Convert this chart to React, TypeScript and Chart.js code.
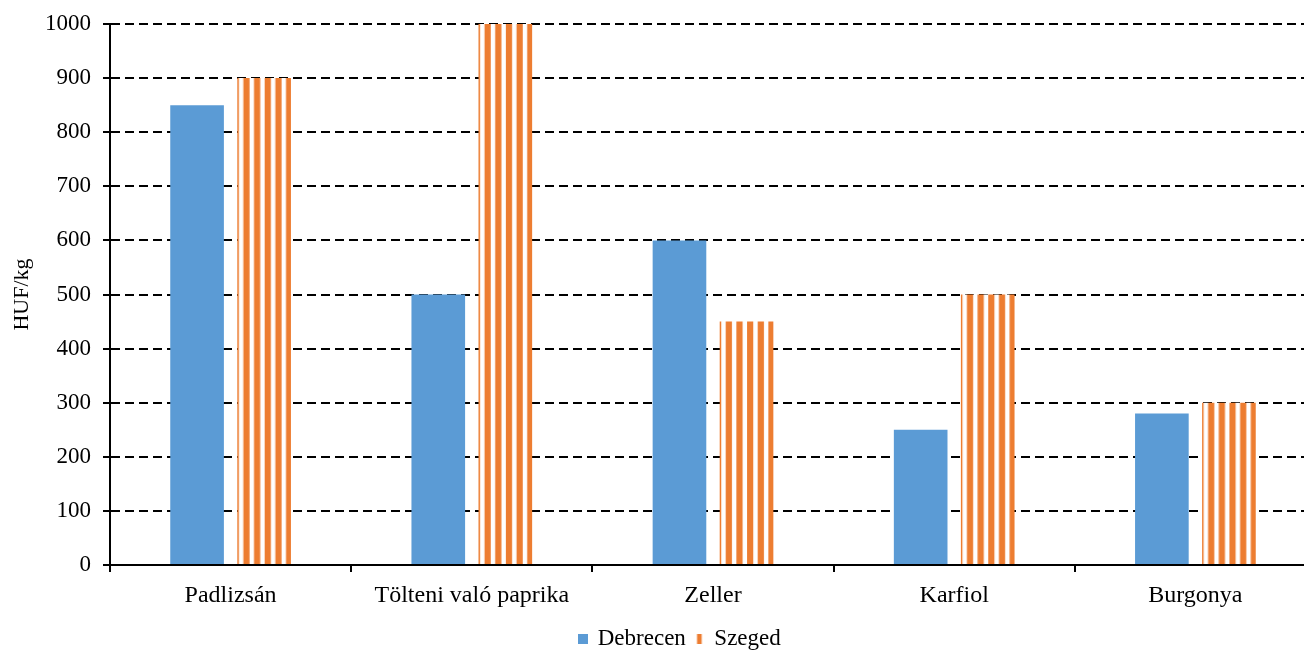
import React, { useEffect, useRef } from "react";
import { Chart, registerables } from "chart.js";

Chart.register(...registerables);

const categories = ["Padlizsán", "Tölteni való paprika", "Zeller", "Karfiol", "Burgonya"];
const debrecen = [850, 500, 600, 250, 280];
const szeged = [900, 1000, 450, 500, 300];
const yTicks = [0, 100, 200, 300, 400, 500, 600, 700, 800, 900, 1000];

const BLUE = "#5B9BD5";
const ORANGE = "#ED7D31";
const FONT = "'Liberation Serif', 'Times New Roman', serif";

const CANVAS_W = 1360;
const CANVAS_H = 670;

function makeStripeTile(): HTMLCanvasElement {
  const c = document.createElement("canvas");
  c.width = 32;
  c.height = 8;
  const g = c.getContext("2d")!;
  g.fillStyle = "#ffffff";
  g.fillRect(0, 0, 32, 8);
  g.fillStyle = ORANGE;
  const period = 32 / 3;
  for (let i = 0; i < 3; i++) {
    g.fillRect(i * period, 0, 6.2, 8);
  }
  return c;
}

function legendIcon(kind: "blue" | "orange"): HTMLCanvasElement {
  const c = document.createElement("canvas");
  c.width = 10;
  c.height = 10;
  const g = c.getContext("2d")!;
  if (kind === "blue") {
    g.fillStyle = BLUE;
    g.fillRect(0, 0, 10, 10);
  } else {
    g.fillStyle = ORANGE;
    g.fillRect(3, 0, 4, 10);
    g.fillStyle = "rgba(237,125,49,0.35)";
    g.fillRect(2, 0, 1, 10);
    g.fillRect(7, 0, 1, 10);
  }
  return c;
}

const legendShift = {
  id: "legendShift",
  afterLayout(chart: any) {
    const lg = chart.legend;
    if (lg) {
      lg.left += 22;
      lg.right += 22;
    }
  },
};

export default function App() {
  const ref = useRef<HTMLCanvasElement>(null);

  useEffect(() => {
    const canvas = ref.current!;
    const tile = makeStripeTile();
    const cctx = canvas.getContext("2d")!;
    const stripeFill = (ctx: any) => {
      const chart = ctx.chart;
      const pat = cctx.createPattern(tile, "repeat")!;
      const xs = chart.scales && chart.scales.x;
      if (ctx.dataIndex !== undefined && xs && xs.getPixelForValue) {
        const center = xs.getPixelForValue(ctx.dataIndex);
        const w = xs.width / categories.length;
        const slot = (w * 0.556) / 2;
        const left = center + slot * 0.1;
        try {
          pat.setTransform(new DOMMatrix().translate(left - 4.67, 0));
        } catch (e) {}
      }
      return pat;
    };

    const chart = new Chart(canvas, {
      type: "bar",
      data: {
        labels: categories,
        datasets: [
          {
            label: "Debrecen",
            data: debrecen,
            backgroundColor: BLUE,
            borderWidth: 0,
            categoryPercentage: 0.556,
            barPercentage: 0.8,
            pointStyle: legendIcon("blue") as any,
          },
          {
            label: "Szeged",
            data: szeged,
            backgroundColor: stripeFill as any,
            borderWidth: 0,
            categoryPercentage: 0.556,
            barPercentage: 0.8,
            pointStyle: legendIcon("orange") as any,
          },
        ],
      },
      plugins: [legendShift],
      options: {
        responsive: false,
        animation: false,
        layout: { padding: { top: 24, left: 0, right: 44, bottom: 9.5 } },
        plugins: {
          tooltip: { enabled: false },
          legend: {
            position: "bottom",
            labels: {
              usePointStyle: true,
              pointStyleWidth: 7,
              color: "#000",
              font: { family: FONT, size: 23 },
              padding: 10,
              boxWidth: 10,
              boxHeight: 10,
            },
          },
        },
        scales: {
          x: {
            offset: true,
            border: { display: true, color: "#000", width: 2 },
            grid: {
              display: true,
              drawOnChartArea: false,
              drawTicks: true,
              tickLength: 7,
              color: "#000",
              lineWidth: 2,
              offset: true,
            },
            ticks: {
              color: "#000",
              font: { family: FONT, size: 24 },
              padding: 9,
              maxRotation: 0,
              autoSkip: false,
            },
            afterFit: (s: any) => {
              s.height = 52.5;
            },
          },
          y: {
            min: 0,
            max: 1000,
            border: { display: true, color: "#000", width: 2, dash: [9, 5] },
            grid: {
              color: (c: any) => (c.tick && c.tick.value === 0 ? "rgba(0,0,0,0)" : "#000"),
              lineWidth: 2,
              tickLength: 7,
              tickColor: "#000",
              tickWidth: 2,
              tickBorderDash: [],
            } as any,
            ticks: {
              stepSize: 100,
              color: "#000",
              font: { family: FONT, size: 23 },
              padding: 12,
              callback: (v: any) => String(v),
            },
            afterBuildTicks: (s: any) => {
              s.ticks = yTicks.map((v) => ({ value: v }));
            },
            afterFit: (s: any) => {
              s.width = 110;
              s.paddingTop = 0;
              s.paddingBottom = 0;
            },
            title: {
              display: true,
              text: "HUF/kg",
              color: "#000",
              font: { family: FONT, size: 22 },
              padding: { top: 9, bottom: 0 },
            },
          },
        },
      } as any,
    });

    return () => chart.destroy();
  }, []);

  return (
    <div style={{ position: "absolute", left: 0, top: 0, width: 1304, height: 651, overflow: "hidden" }}>
      <canvas ref={ref} width={CANVAS_W} height={CANVAS_H} style={{ display: "block" }} />
    </div>
  );
}
